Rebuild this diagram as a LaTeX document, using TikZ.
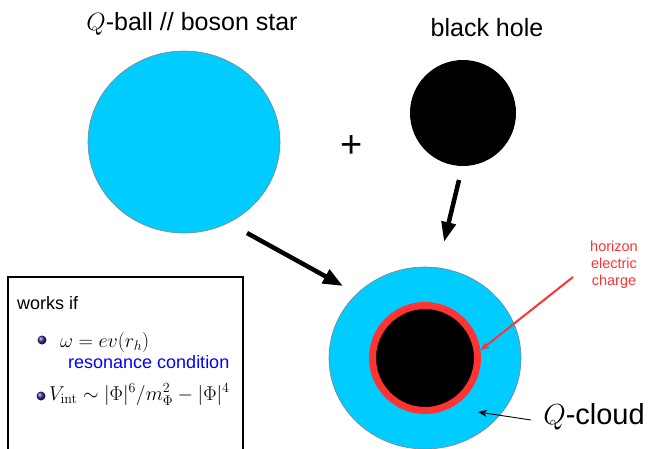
\RequirePackage{fix-cm}
\documentclass[tikz,border=0pt]{standalone}
\usepackage[no-math]{fontspec}
\setmainfont{Liberation Sans}
\setsansfont{Liberation Sans}
\usepackage{amsmath,amssymb}
\usepackage{tikz}
\usetikzlibrary{positioning,arrows.meta,shapes.geometric}
\definecolor{nubecian}{RGB}{0,204,255}
\definecolor{bordegris}{RGB}{130,130,130}
\definecolor{horizonte}{RGB}{255,51,51}
\definecolor{bolita}{RGB}{45,45,140}

\begin{document}
\begin{tikzpicture}[x=1pt, y=-1pt,
    font=\sffamily, >={Triangle[length=20pt, width=15pt]},
    esfera/.style={ellipse, draw=bordegris, line width=0.6pt, fill=nubecian,
                   inner sep=0pt, minimum width=192pt, minimum height=182pt},
    agujero/.style={circle, fill=black, inner sep=0pt, minimum size=106pt},
    titulo/.style={anchor=base, font=\fontsize{25}{30}\selectfont},
    texto/.style={anchor=base west, inner sep=0pt},
    vineta/.style={circle, inner sep=0pt, minimum size=9pt, shading=ball, ball color=bolita},
    flechagorda/.style={->, line width=4.5pt},
    flechafina/.style={-{Stealth[length=9pt, width=7pt]}, line width=0.9pt}]
  \useasboundingbox (0,0) rectangle (648,448);
  \node[titulo] (titbola) at (192,30) {$Q$-ball // boson star};
  \node[titulo] (titagujero) at (487,36) {black hole};
  \node[esfera] (qball) at (184,142) {};
  \node[agujero] (bh) at (463,113) {};
  \node[font=\fontsize{38}{40}\selectfont] (mas) at (352,147) {+};
  \node[esfera] (nube) at (425,358) {};
  \node[circle, draw=horizonte, line width=7pt, fill=black, inner sep=0pt,
        minimum size=105pt] (anillo) at (425,358) {};
  \coordinate (bola-sale) at (247,233);
  \coordinate (bola-llega) at (343,286);
  \coordinate (bh-sale) at (459,180);
  \coordinate (bh-llega) at (444,242);
  \draw[flechagorda] (bola-sale) -- (bola-llega);
  \draw[flechagorda, >={Triangle[length=20pt, width=14pt]}] (bh-sale) -- (bh-llega);
  \node[align=center, text=horizonte, font=\fontsize{14.5}{17}\selectfont]
       (carga) at (614,265) {horizon\\electric\\charge};
  \coordinate (carga-sale) at (573,277);
  \draw[flechafina, horizonte, line width=2pt] (carga-sale) -- (anillo.8);
  \node[anchor=base, font=\fontsize{29}{32}\selectfont] (qcloud) at (594,424) {$Q$-cloud};
  \coordinate (nube-sale) at (531,420);
  \coordinate (nube-llega) at (478,412);
  \draw[flechafina] (nube-sale) -- (nube-llega);
  \node[draw, line width=1.5pt, anchor=north west, inner sep=0pt,
        minimum width=235pt, minimum height=200pt] (caja) at (7,276) {};
  \node[texto, font=\fontsize{18}{21}\selectfont] (funciona) at (17,309) {works if};
  \node[vineta] (v1) at (42,340) {};
  \node[texto, font=\fontsize{20}{24}\selectfont] (cond1) at (60,347) {$\omega = ev(r_h)$};
  \node[texto, text=blue, font=\fontsize{18}{22}\selectfont] (reso) at (68,368) {resonance condition};
  \node[vineta] (v2) at (41,396) {};
  \node[texto, font=\fontsize{20}{24}\selectfont] (cond2) at (49,400)
       {$V_{\mathrm{int}} \sim |\Phi|^6/m_\Phi^2 - |\Phi|^4$};
\end{tikzpicture}
\end{document}
